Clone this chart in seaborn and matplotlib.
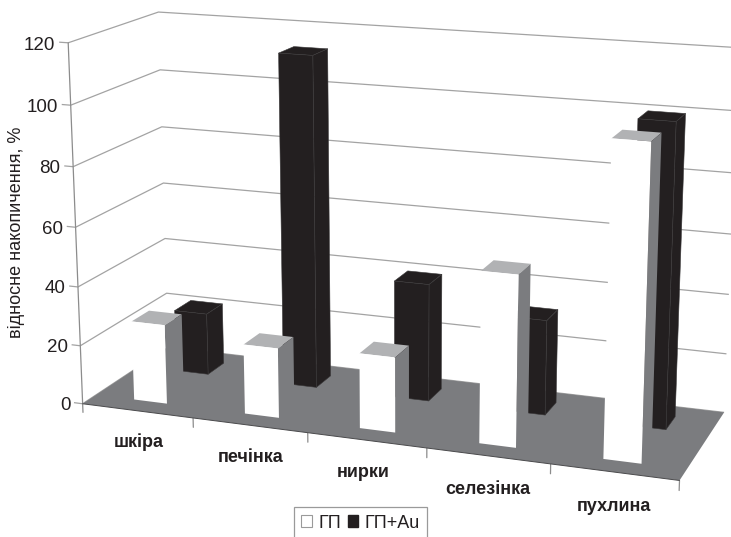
import numpy as np
import matplotlib
matplotlib.use("Agg")
import matplotlib.pyplot as plt
from matplotlib.patches import Patch
from mpl_toolkits.mplot3d import proj3d
from mpl_toolkits.mplot3d.art3d import Poly3DCollection, Line3DCollection
import seaborn as sns

categories = ["шкіра", "печінка", "нирки", "селезінка", "пухлина"]
series_names = ["ГП", "ГП+Au"]
gp = [27, 23.5, 25, 56, 100.5]
gp_au = [21.5, 113, 40, 32, 100]
y_ticks = [0, 20, 40, 60, 80, 100, 120]

INK = "#231f20"
FLOOR = "#7b7c7f"
TOP = "#b1b2b4"
GRID = "#a3a3a3"
DARK = "#231f20"
DARK_EDGE = "#3a3839"

sns.set_theme(style="white")
plt.rcParams["font.family"] = ["Liberation Sans", "DejaVu Sans"]

W, H = 731, 537
fig = plt.figure(figsize=(W / 100, H / 100), dpi=100)
ax = fig.add_axes([0, (1 - W / H) / 2, 1, W / H], projection="3d")
ax.set_axis_off()
ax.computed_zorder = False
ax.set_xlim(0, 5)
ax.set_ylim(0, 1)
ax.set_zlim(0, 120)
ax.apply_aspect()

# camera calibration: chart-space anchors (category, depth, value) -> pixel
calib_world = np.array([
    (0, 0, 0), (0, 0, 20), (0, 0, 40), (0, 0, 60), (0, 0, 80), (0, 0, 100), (0, 0, 120),
    (0, 1, 20), (0, 1, 40), (0, 1, 60), (0, 1, 80), (0, 1, 100), (0, 1, 120),
    (5, 1, 0), (5, 1, 60), (5, 1, 120),
    (1, 0, 0), (2, 0, 0), (4, 0, 0), (5, 0, 0)], float)
calib_px = np.array([
    (83, 404), (80.5, 346), (78, 286), (76, 227), (73, 166), (71, 105.5), (68, 43),
    (167, 293), (165, 239.5), (163, 183), (162, 127), (160, 69.6), (158, 12),
    (724, 412), (731.5, 233), (739, 48.5),
    (192, 418), (308, 433), (551, 464), (679, 481)], float)

disp = np.column_stack([calib_px[:, 0], H - calib_px[:, 1]])
scr = ax.transData.inverted().transform(disp)
A = []
for (u, d, z), (x, y) in zip(calib_world, scr):
    p = [u / 5, d, z / 120, 1]
    A.append(p + [0, 0, 0, 0] + [-x * v for v in p])
    A.append([0, 0, 0, 0] + p + [-y * v for v in p])
sol = np.linalg.svd(np.array(A))[2][-1].reshape(3, 4)
if sol[2, 3] < 0:
    sol = -sol
scale = np.diag([1 / 5, 1, 1 / 120, 1])
Px, Py, Pw = sol[0] @ scale, sol[1] @ scale, sol[2] @ scale
M = np.array([Px, Py, [0, 1, 0, 0], Pw])
ax.get_proj = lambda: M


def fig_xy(u, d, z):
    x, y, _ = proj3d.proj_transform(u, d, z, M)
    return fig.transFigure.inverted().transform(ax.transData.transform((x, y)))


# side wall / back wall gridlines
grid_paths = []
for t in y_ticks:
    grid_paths.append([(-0.08, 0, t), (0, 0, t), (0, 1, t), (5, 1, t)])
    fx, fy = fig_xy(-0.115, 0, t - 1.1)
    fig.text(fx, fy, str(t), ha="right", va="center", fontsize=13.5, color=INK)
ax.add_collection3d(Line3DCollection(grid_paths, colors=GRID, linewidths=0.9, zorder=1.5))
ax.plot([0, 0], [0, 0], [-3, 120], color="#8c8c8c", lw=0.9, zorder=1.5)

# floor
floor = Poly3DCollection([[(0, 0, 0), (5, 0, 0), (5, 1, 0), (0, 1, 0)]],
                         facecolor=FLOOR, edgecolor="none", zorder=2)
ax.add_collection3d(floor)
ax.plot([0, 5], [0, 0], [0, 0], color="#4a4a4c", lw=0.7, zorder=2.1)
for i in range(1, 6):
    ax.plot([i, i], [0, 0], [0, -3.2], color="#8c8c8c", lw=0.9, zorder=1.5)

BAR_W = 0.30
BAR_D = 0.20
ROW_FRONT = 0.15
ROW_BACK = 0.65
CLEAR = (0, 0, 0, 0)


def bar(i, d0, value, front, top, side, edge, z):
    colors = [CLEAR, top, front, CLEAR, CLEAR, side]
    edges = [CLEAR, edge, edge, CLEAR, CLEAR, edge]
    ax.bar3d(i + 0.5 - BAR_W / 2, d0, 0, BAR_W, BAR_D, value, color=colors,
             edgecolor=edges, linewidth=0.4, shade=False, zorder=z)


for i, v in enumerate(gp_au):
    bar(i, ROW_BACK, v, DARK, DARK, DARK, DARK_EDGE, 3 + i * 0.01)
for i, v in enumerate(gp):
    bar(i, ROW_FRONT, v, "#ffffff", TOP, FLOOR, CLEAR, 4 + i * 0.01)

ax.set_xlim(0, 5)
ax.set_ylim(0, 1)
ax.set_zlim(0, 120)

# category labels below the floor
label_u = [0.5, 1.5, 2.47, 3.5, 4.5]
for u, name in zip(label_u, categories):
    fx, fy = fig_xy(u, 0, -11)
    fig.text(fx, fy, name, ha="center", va="center", fontsize=13,
             fontweight="bold", color=INK)

fig.text(16.5 / W, 1 - 232 / H, "відносне накопичення, %", rotation=90,
         ha="center", va="center", fontsize=13, color=INK)

handles = [Patch(facecolor="white", edgecolor="#9a9a9a", linewidth=0.8),
           Patch(facecolor=DARK, edgecolor=DARK)]
leg = fig.legend(handles, series_names, loc="center", ncols=2,
                 bbox_to_anchor=(360.5 / W, 1 - 523 / H), fontsize=13,
                 frameon=True, fancybox=False, edgecolor="#9a9a9a", framealpha=1,
                 handlelength=0.6, handleheight=0.6, handletextpad=0.36,
                 columnspacing=0.36, borderpad=0.4, labelcolor=INK)
leg.get_frame().set_linewidth(0.9)

fig.savefig("out.png", dpi=100, facecolor="white")
